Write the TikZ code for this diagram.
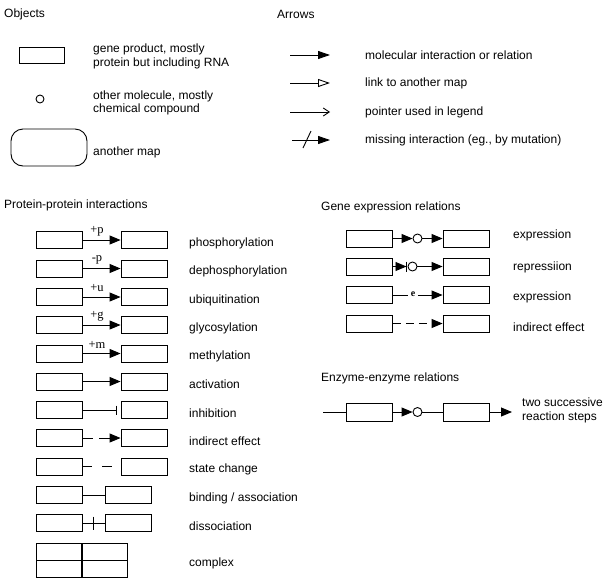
\documentclass[tikz,border=0pt]{standalone}
\usepackage{fontspec}
\setmainfont{Liberation Sans}
\newfontfamily\modfont{Liberation Serif}
\usetikzlibrary{arrows.meta,calc}

\tikzset{
  gene/.style={draw,line width=0.9pt,minimum width=46pt,minimum height=17pt,inner sep=0pt},
  cpd/.style={draw,circle,line width=0.9pt,minimum size=9pt,inner sep=0pt},
  txt/.style={anchor=west,inner sep=0pt,align=left,font=\fontsize{12}{13.5}\selectfont},
  mod/.style={inner sep=0pt,font=\modfont\fontsize{12.5}{12.5}\selectfont},
  con/.style={line width=0.9pt},
  fwd/.style={con,-{Triangle[length=11pt,width=9pt]}},
}

\begin{document}
\begin{tikzpicture}[x=1pt,y=-1pt]
\useasboundingbox (0,0) rectangle (609,581);

% Objects
\node[txt] (objt) at (4,14) {Objects};
\node[gene,minimum width=45pt,minimum height=16pt] (ob1) at (41.5,55) {};
\node[txt] (ob1t) at (93,56.5) {gene product, mostly\\protein but including RNA};
\node[cpd,minimum size=8pt] (ob2) at (40,99) {};
\node[txt] (ob2t) at (93,103) {other molecule, mostly\\chemical compound};
\node[draw,line width=0.9pt,rounded corners=12pt,minimum width=76pt,minimum height=37pt] (ob3) at (49,147.5) {};
\node[txt] (ob3t) at (93,152) {another map};

% Arrows
\node[txt] (arrt) at (277,14) {Arrows};
\coordinate (a1s) at (290,55);  \coordinate (a1e) at (330,55);
\coordinate (a2s) at (290,83);  \coordinate (a2e) at (330,83);
\coordinate (a3s) at (290,112); \coordinate (a3e) at (330,112);
\coordinate (a4s) at (292,140); \coordinate (a4e) at (330,140);
\draw[con,-{Triangle[length=12pt,width=8pt]}] (a1s) -- (a1e);
\draw[con,-{Triangle[open,length=12pt,width=8pt]}] (a2s) -- (a2e);
\draw[con,-{Straight Barb[length=6pt,width=8pt]}] (a3s) -- (a3e);
\draw[con,-{Triangle[length=12pt,width=8pt]}] (a4s) -- (a4e);
\draw[con] (303,148) -- (311,131);
\node[txt] (a1t) at (365,55) {molecular interaction or relation};
\node[txt] (a2t) at (365,83) {link to another map};
\node[txt] (a3t) at (365,112) {pointer used in legend};
\node[txt] (a4t) at (365,140) {missing interaction (eg., by mutation)};

% Protein-protein interactions
\node[txt] (ppt) at (4,205) {Protein-protein interactions};

\node[gene] (p0l) at (59,240) {};   \node[gene] (p0r) at (144,240) {};
\draw[fwd] (p0l) -- (p0r);
\node[mod] (p0m) at (97,231) {+p};
\node[txt] (p0t) at (189,243) {phosphorylation};

\node[gene] (p1l) at (59,268.5) {}; \node[gene] (p1r) at (144,268.5) {};
\draw[fwd] (p1l) -- (p1r);
\node[mod] (p1m) at (97,259.5) {-p};
\node[txt] (p1t) at (189,271.5) {dephosphorylation};

\node[gene] (p2l) at (59,297) {};   \node[gene] (p2r) at (144,297) {};
\draw[fwd] (p2l) -- (p2r);
\node[mod] (p2m) at (97,288) {+u};
\node[txt] (p2t) at (189,300) {ubiquitination};

\node[gene] (p3l) at (59,325) {};   \node[gene] (p3r) at (144,325) {};
\draw[fwd] (p3l) -- (p3r);
\node[mod] (p3m) at (97,316) {+g};
\node[txt] (p3t) at (189,328) {glycosylation};

\node[gene] (p4l) at (59,353.5) {}; \node[gene] (p4r) at (144,353.5) {};
\draw[fwd] (p4l) -- (p4r);
\node[mod] (p4m) at (97,344.5) {+m};
\node[txt] (p4t) at (189,356.5) {methylation};

\node[gene] (p5l) at (59,381.5) {}; \node[gene] (p5r) at (144,381.5) {};
\draw[fwd] (p5l) -- (p5r);
\node[txt] (p5t) at (189,384.5) {activation};

\node[gene] (p6l) at (59,410) {};   \node[gene] (p6r) at (144,410) {};
\draw[con,-{Bar[width=9pt]},shorten >=3.5pt] (p6l) -- (p6r);
\node[txt] (p6t) at (189,413) {inhibition};

\node[gene] (p7l) at (59,438) {};   \node[gene] (p7r) at (144,438) {};
\draw[fwd,dash pattern=on 11pt off 6pt] (p7l) -- (p7r);
\node[txt] (p7t) at (189,441) {indirect effect};

\node[gene] (p8l) at (59,466.5) {}; \node[gene] (p8r) at (144,466.5) {};
\draw[con,dash pattern=on 10pt off 10pt] (p8l) -- (p8r);
\node[txt] (p8t) at (189,469.5) {state change};

\node[gene] (p9l) at (59,495) {};   \node[gene] (p9r) at (128,495) {};
\draw[con] (p9l) -- (p9r);
\node[txt] (p9t) at (189,498) {binding / association};

\node[gene] (p10l) at (59,523) {};  \node[gene] (p10r) at (128,523) {};
\draw[con] (p10l) -- (p10r);
\coordinate (dis) at ($(p10l.east)!0.5!(p10r.west)$);
\draw[con] (dis) ++(0,-6.5) -- ++(0,13);
\node[txt] (p10t) at (189,526) {dissociation};

\node[gene] (cx1) at (59,551.5) {};  \node[gene] (cx2) at (104.5,551.5) {};
\node[gene] (cx3) at (59,568.5) {};  \node[gene] (cx4) at (104.5,568.5) {};
\node[txt] (cxt) at (189,563) {complex};

% Gene expression relations
\node[txt] (get) at (321,207) {Gene expression relations};

\node[gene] (g1l) at (369.5,238.5) {}; \node[gene] (g1r) at (466,238.5) {};
\node[cpd] (g1c) at (417.5,238.5) {};
\draw[fwd] (g1l) -- (g1c);
\draw[fwd] (g1c) -- (g1r);
\node[txt] (g1t) at (513,235.5) {expression};

\node[gene] (g2l) at (369.5,266.5) {}; \node[gene] (g2r) at (466,266.5) {};
\node[cpd] (g2c) at (412.5,266.5) {};
\coordinate (g2b) at (406.5,266.5);
\draw[fwd] (g2l) -- (g2b);
\draw[con] (g2b) ++(0,-5) -- ++(0,10);
\draw[fwd] (g2c) -- (g2r);
\node[txt] (g2t) at (513,267) {repressiion};

\node[gene] (g3l) at (369.5,295) {};   \node[gene] (g3r) at (466,295) {};
\node[mod,inner sep=2.5pt,font=\modfont\bfseries\fontsize{10}{10}\selectfont] (g3e) at (413,294) {e};
\draw[con] (g3l) -- (g3l.east -| g3e.west);
\draw[fwd] (g3l.east -| g3e.east) -- (g3r);
\node[txt] (g3t) at (513,297) {expression};

\node[gene] (g4l) at (369.5,323.5) {}; \node[gene] (g4r) at (466,323.5) {};
\draw[fwd,dash pattern=on 8pt off 5pt] (g4l) -- (g4r);
\node[txt] (g4t) at (513,327) {indirect effect};

% Enzyme-enzyme relations
\node[txt] (eet) at (321,378) {Enzyme-enzyme relations};
\coordinate (e0) at (323,412);
\node[gene,minimum height=18pt] (e1) at (369.5,412) {};
\node[cpd] (ec) at (417.5,412) {};
\node[gene,minimum height=18pt] (e2) at (466,412) {};
\coordinate (e3) at (512,412);
\draw[con] (e0) -- (e1);
\draw[fwd] (e1) -- (ec);
\draw[con] (ec) -- (e2);
\draw[fwd] (e2) -- (e3);
\node[txt] (eetx) at (522,410.5) {two successive\\reaction steps};
\end{tikzpicture}
\end{document}
